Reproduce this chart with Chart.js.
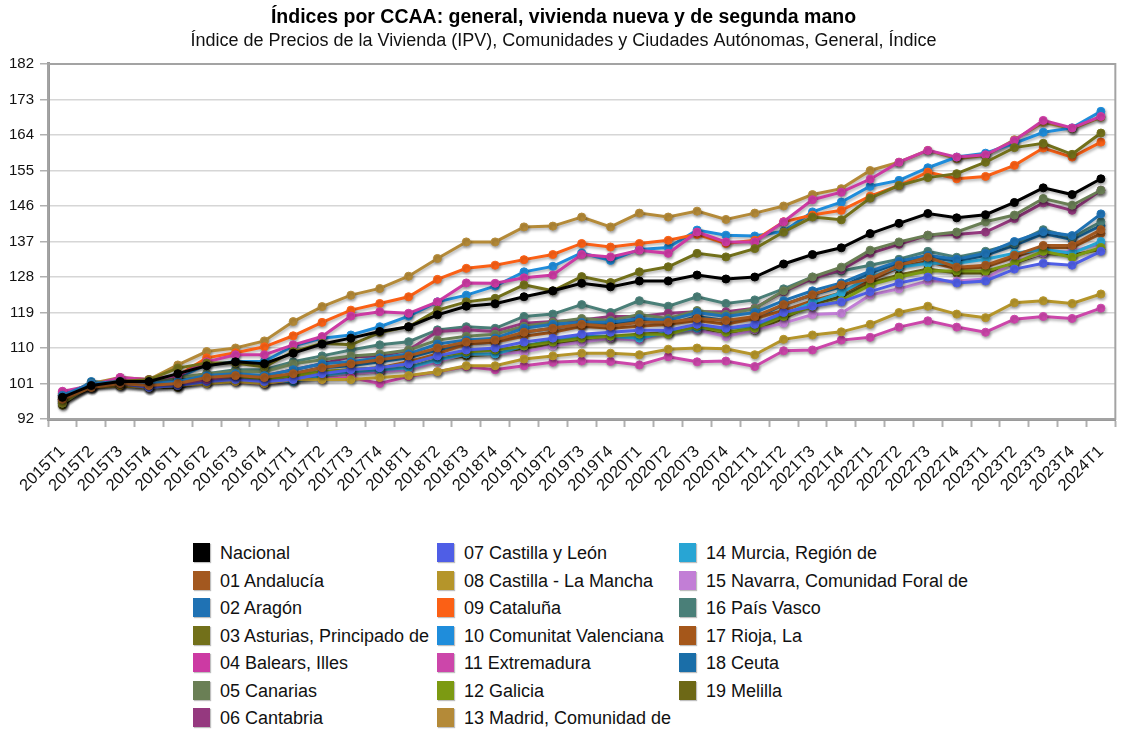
<!DOCTYPE html>
<html lang="es">
<head>
<meta charset="utf-8">
<title>Índices por CCAA</title>
<script src="https://cdn.jsdelivr.net/npm/chart.js@4.4.1/dist/chart.umd.min.js"></script>
<style>
    body { margin: 0; background: #fff; font-family: 'Liberation Sans', Arial, sans-serif; }
    #wrap { position: relative; width: 1130px; height: 731px; }
    #chartBox { position: absolute; left: 0; top: 0; width: 1130px; height: 500px; }
    #legend { position: absolute; left: 0; top: 543px; width: 1130px; height: 190px; }
    #legend .item { position: absolute; height: 20px; line-height: 20px; font-size: 18px; color: #111; white-space: nowrap; }
    #legend .box { position: absolute; left: 0; top: 0; width: 17px; height: 19px; box-shadow: 1px 1px 1px rgba(0,0,0,0.25); }
    #legend .txt { position: absolute; left: 27px; top: 0; }
</style>
</head>
<body>
<div id="wrap">
    <div id="chartBox"><canvas id="ipvChart"></canvas></div>
    <div id="legend"></div>
</div>
<script>
// Quarters on the x axis
const quarters = [
    '2015T1', '2015T2', '2015T3', '2015T4', '2016T1', '2016T2', '2016T3', '2016T4',
    '2017T1', '2017T2', '2017T3', '2017T4', '2018T1', '2018T2', '2018T3', '2018T4',
    '2019T1', '2019T2', '2019T3', '2019T4', '2020T1', '2020T2', '2020T3', '2020T4',
    '2021T1', '2021T2', '2021T3', '2021T4', '2022T1', '2022T2', '2022T3', '2022T4',
    '2023T1', '2023T2', '2023T3', '2023T4', '2024T1'
];

// Index values (base 2015)
const nacional = [97.5, 100.5, 101.5, 101.5, 103.5, 105.5, 106.5, 106, 108.7, 111, 112.5, 114.2, 115.4, 118.4, 120.6, 121.2, 123, 124.5, 126.4, 125.5, 127, 127, 128.5, 127.5, 128, 131.3, 133.7, 135.4, 139, 141.6, 144.1, 143, 143.8, 146.9, 150.6, 148.9, 152.9];
const andalucia = [97, 100, 101, 100.5, 101, 102.5, 103, 102.5, 103.5, 105, 106, 107, 108, 110, 111.5, 112, 114, 115, 116, 115.5, 116.5, 116.5, 117.5, 117, 118, 121, 123.5, 126, 127.5, 131, 133, 130.5, 131, 133.5, 136, 136, 140];
const aragon = [98, 101, 101.5, 101, 101.5, 103, 103.5, 103, 104.5, 106, 106.5, 107.5, 108.5, 111, 112, 112.5, 115, 116, 116.5, 116.5, 117.5, 117, 119, 118, 119, 122, 124.5, 126.5, 129.5, 132, 133.5, 132.5, 134, 137, 139.5, 138.5, 144];
const asturias = [96, 101, 101.5, 102, 104.9, 106.2, 106.2, 105.2, 109.1, 111.2, 110.8, 113.9, 115.4, 119.6, 121.7, 122.6, 126, 124.5, 128.1, 126.6, 129.3, 130.6, 134, 133.1, 135.2, 139.4, 143.2, 142.5, 148, 151.2, 153.2, 154.2, 157.1, 160.8, 161.9, 159.1, 164.5];
const balears = [99, 100.5, 102.5, 102, 103, 106.5, 108.3, 108.3, 110.8, 112.9, 118.1, 119.2, 118.8, 121.7, 126.5, 126.4, 127.8, 128.5, 133.7, 133.1, 134.8, 134, 139.4, 136.9, 136.9, 142, 147.6, 149.5, 152.8, 157.1, 160.1, 158.4, 159, 162.6, 167.7, 165.8, 168.7];
const canarias = [96, 100.5, 101.5, 101.5, 102.5, 103.5, 104, 104, 106, 107, 108, 108.5, 109.5, 112, 113, 113.5, 115.5, 116.5, 117.5, 117, 118.5, 117.5, 119.5, 118.5, 120, 124.5, 128, 130.5, 134.8, 136.9, 138.6, 139.4, 142, 143.7, 147.9, 146.2, 150];
const cantabria = [97, 100.5, 102, 101, 101, 102, 103, 103, 104.5, 106, 107.8, 108, 109.5, 114.2, 114.6, 114.2, 116.3, 116.7, 117.1, 118, 118, 118.8, 119.2, 119.2, 120.1, 124.3, 127.6, 129.8, 134, 136.3, 138.6, 138.8, 139.4, 142.8, 146.8, 144.9, 150];
const castillaLeon = [97, 100.5, 101, 100, 100.5, 101.5, 102, 101.5, 102, 103.5, 104.5, 105, 106, 108, 109.5, 110, 111.5, 112.5, 113.5, 114, 114.5, 114.5, 116, 115, 116, 119, 120.6, 121.7, 124.3, 126.5, 128, 126.5, 127, 130, 131.5, 131, 134.5];
const castillaMancha = [97, 100, 100.5, 100, 100.5, 101, 101.5, 101, 102, 102, 102, 102.5, 103, 104, 105.5, 105.5, 107.2, 108, 108.7, 108.7, 108.3, 109.7, 110, 109.8, 108.3, 112.2, 113.3, 114.1, 116, 119, 120.6, 118.6, 117.7, 121.5, 122, 121.3, 123.7];
const cataluna = [98, 100.5, 101.5, 101.5, 103, 107.5, 108.8, 110.3, 113.1, 116.5, 119.6, 121.3, 123, 127.4, 130.2, 131, 132.4, 133.7, 136.5, 135.6, 136.5, 137.3, 138.8, 136.5, 137.3, 142, 143.7, 144.9, 148.5, 151.2, 154.6, 152.9, 153.5, 156.3, 160.7, 158.4, 162.2];
const valenciana = [98, 101, 101.5, 101, 102.5, 105.7, 106.6, 106.6, 110.5, 112.5, 113.3, 115.4, 118.1, 121.7, 123.4, 125.7, 129.3, 130.7, 134.1, 132.2, 135, 135.5, 139.9, 138.6, 138.4, 139.6, 144.5, 147, 151, 152.5, 155.7, 158.4, 159.4, 161.9, 164.7, 165.8, 170];
const extremadura = [99, 100, 102.5, 101, 101, 101.5, 101.5, 101, 102, 102, 102.5, 101, 102.8, 104, 105.3, 104.5, 105.5, 106.4, 106.7, 106.6, 105.7, 107.8, 106.5, 106.7, 105.3, 109.3, 109.5, 112, 112.7, 115.3, 116.9, 115.3, 114, 117.3, 118, 117.5, 120.1];
const galicia = [96, 100.5, 101, 101, 101.5, 102, 102.5, 102, 103, 104, 104.5, 105, 106, 108, 109, 109.5, 110.5, 111.5, 112.5, 113, 113.5, 113.5, 115.5, 114, 115, 118, 120.5, 122, 126, 128, 129.5, 129.5, 129.5, 131.5, 134.5, 133, 135.5];
const madrid = [98, 101, 102.5, 102, 105.7, 109.1, 110, 111.8, 116.7, 120.5, 123.4, 125.1, 128.2, 132.7, 136.9, 136.9, 140.7, 140.9, 143.2, 140.7, 144.2, 143.2, 144.7, 142.6, 144.2, 146, 148.9, 150.4, 155, 157.1, 160.1, 158, 158.8, 162.8, 167.2, 165.6, 168.5];
const murcia = [97, 100.5, 101, 100, 100.5, 101.5, 102, 101.5, 101.5, 103, 104, 104.5, 105, 107, 108.5, 108.5, 110.5, 112, 113, 113, 112.5, 114, 115, 115, 115.5, 118.5, 121.5, 124, 128, 130.5, 131.5, 131.5, 132.5, 134, 135, 134, 137];
const navarra = [98.5, 100.5, 101.5, 101, 101, 101.5, 102, 101.5, 102, 103, 103.5, 104, 104.5, 106.5, 108.5, 108.5, 109, 110.5, 111.5, 112.5, 112, 114.2, 114.6, 112.9, 114.6, 116.3, 118.5, 118.8, 123.4, 125, 127, 127, 127.5, 132, 134, 134.5, 136.5];
const paisVasco = [98, 100.5, 101.5, 101, 102, 103.5, 104.5, 104.5, 106.5, 108, 109.5, 110.8, 111.6, 114.6, 115.4, 115, 118, 118.6, 121, 119, 122, 120.6, 123, 121.3, 122.2, 125, 128, 129.5, 131, 132.5, 134.5, 133, 134.5, 136.5, 140, 138, 142];
const rioja = [96.5, 100, 100.5, 100, 100.5, 102, 102.5, 101.5, 103, 104, 104.5, 105, 106.5, 108.5, 111, 111.5, 113, 114, 115.5, 115, 115.5, 116, 117, 116, 117.5, 119.5, 122, 124, 127, 130.5, 132, 130, 130.5, 133, 135.5, 135.5, 139];
const ceuta = [97, 101.5, 101, 101, 101, 102, 102.5, 102, 103.5, 105, 105.5, 106.5, 107.5, 109.5, 111, 111.5, 114, 115, 116, 116, 117, 116, 118, 117, 117.5, 121, 123.5, 125.5, 129, 131.5, 133, 132, 133.5, 136, 139, 137.5, 141];
const melilla = [95.5, 101, 100.5, 100, 100, 101.5, 102, 101, 102, 103, 103.5, 104, 105, 107, 108, 108.5, 110, 111, 112, 112.5, 113.5, 114, 115, 114, 114.5, 117.5, 121, 123, 126.5, 128.5, 130, 129, 129, 131.5, 134, 133.5, 135];

// Y axis ticks
const yTicks = [92, 101, 110, 119, 128, 137, 146, 155, 164, 173, 182];

const seriesNames = [
    'Nacional', '01 Andalucía', '02 Aragón', '03 Asturias, Principado de', '04 Balears, Illes',
    '05 Canarias', '06 Cantabria', '07 Castilla y León', '08 Castilla - La Mancha', '09 Cataluña',
    '10 Comunitat Valenciana', '11 Extremadura', '12 Galicia', '13 Madrid, Comunidad de',
    '14 Murcia, Región de', '15 Navarra, Comunidad Foral de', '16 País Vasco', '17 Rioja, La',
    '18 Ceuta', '19 Melilla'
];
const seriesValues = [
    nacional, andalucia, aragon, asturias, balears, canarias, cantabria, castillaLeon,
    castillaMancha, cataluna, valenciana, extremadura, galicia, madrid, murcia, navarra,
    paisVasco, rioja, ceuta, melilla
];
const seriesColors = [
    '#000000', '#a3581f', '#1f72b4', '#72701a', '#cc3aa3', '#6a7f55', '#95397f', '#4f5ee6',
    '#b5952a', '#fb6015', '#1f8ddb', '#cc46aa', '#7c9a12', '#b48a38', '#28a5d4', '#c27ed6',
    '#4a7f78', '#a5571a', '#1a6ea8', '#6d6816'
];

const FONT = "'Liberation Sans', Arial, Helvetica, sans-serif";

// soft drop shadow under every line, like the original
const shadowPlugin = {
    id: 'lineShadow',
    beforeDatasetDraw(chart) {
        const c = chart.ctx;
        c.save();
        c.shadowColor = 'rgba(0, 0, 0, 0.3)';
        c.shadowBlur = 3;
        c.shadowOffsetX = 1;
        c.shadowOffsetY = 2;
    },
    afterDatasetDraw(chart) {
        chart.ctx.restore();
    }
};

// gray frame round the plot area
const framePlugin = {
    id: 'plotFrame',
    beforeDatasetsDraw(chart) {
        const { ctx, chartArea: a } = chart;
        ctx.save();
        ctx.strokeStyle = '#a3a3a3';
        ctx.lineWidth = 2;
        ctx.strokeRect(a.left, a.top, a.right - a.left, a.bottom - a.top);
        ctx.restore();
    }
};

const ctx = document.getElementById('ipvChart').getContext('2d');
const chart = new Chart(ctx, {
    type: 'line',
    data: {
        labels: quarters,
        datasets: seriesNames.map((name, i) => ({
            label: name,
            data: seriesValues[i],
            borderColor: seriesColors[i],
            backgroundColor: seriesColors[i],
            borderWidth: 3,
            pointRadius: 4,
            pointBorderWidth: 1,
            pointHoverRadius: 5,
            tension: 0,
            fill: false
        }))
    },
    plugins: [framePlugin, shadowPlugin],
    options: {
        responsive: true,
        maintainAspectRatio: false,
        animation: false,
        layout: { padding: { left: 0, right: 3, top: 6, bottom: 0 } },
        plugins: {
            legend: { display: false },
            tooltip: { enabled: false },
            title: {
                display: true,
                text: 'Índices por CCAA: general, vivienda nueva y de segunda mano',
                color: '#000',
                font: { family: FONT, size: 19.5, weight: 'bold' },
                padding: { top: 0, bottom: 0 }
            },
            subtitle: {
                display: true,
                text: 'Índice de Precios de la Vivienda (IPV), Comunidades y Ciudades Autónomas, General, Índice',
                color: '#111',
                font: { family: FONT, size: 18 },
                padding: { top: 1, bottom: 12 }
            }
        },
        scales: {
            x: {
                offset: true,
                grid: {
                    offset: true,
                    drawOnChartArea: false,
                    drawTicks: true,
                    tickLength: 8,
                    tickColor: '#b0b0b0',
                    tickWidth: 2
                },
                border: { display: true, color: '#9a9a9a', width: 3 },
                ticks: {
                    color: '#111',
                    font: { family: FONT, size: 16.5 },
                    minRotation: 45,
                    maxRotation: 45,
                    autoSkip: false,
                    padding: 15
                },
                afterFit(scale) { scale.height = 81; }
            },
            y: {
                min: yTicks[0],
                max: yTicks[yTicks.length - 1],
                afterBuildTicks(scale) { scale.ticks = yTicks.map(v => ({ value: v })); },
                grid: {
                    color: '#d6d6d6',
                    lineWidth: 1.5,
                    tickLength: 8,
                    tickColor: '#b0b0b0'
                },
                border: { display: true, color: '#9a9a9a', width: 3 },
                ticks: {
                    color: '#111',
                    font: { family: FONT, size: 15 },
                    padding: 6
                },
                afterFit(scale) { scale.width = 48; }
            }
        }
    }
});

// 3-column legend below the chart, filled column by column
const legendCols = [193, 437, 679];
const legendBox = document.getElementById('legend');
chart.data.datasets.forEach((ds, i) => {
    const col = Math.floor(i / 7);
    const row = i % 7;
    const item = document.createElement('div');
    item.className = 'item';
    item.style.left = legendCols[col] + 'px';
    item.style.top = (row * 27.5) + 'px';
    const box = document.createElement('span');
    box.className = 'box';
    box.style.background = ds.borderColor;
    const txt = document.createElement('span');
    txt.className = 'txt';
    txt.textContent = ds.label;
    item.appendChild(box);
    item.appendChild(txt);
    legendBox.appendChild(item);
});
</script>
</body>
</html>
